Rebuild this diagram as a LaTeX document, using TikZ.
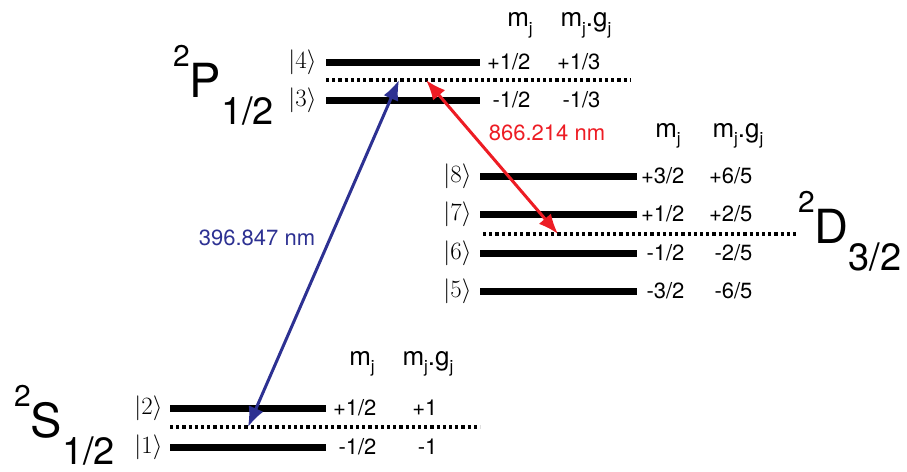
\documentclass[tikz,border=0pt]{standalone}
\usepackage{fontspec}
\setmainfont{TeX Gyre Heros}
\usetikzlibrary{arrows.meta}
\definecolor{uvblue}{RGB}{45,49,146}
\definecolor{irred}{RGB}{237,28,36}
\newcommand{\supn}[1]{\raisebox{31pt}{\fontsize{30}{30}\selectfont #1}}
\newcommand{\subn}[1]{\raisebox{-27pt}{\fontsize{38}{38}\selectfont #1}}
\newcommand{\jsub}{\lower7pt\hbox{\fontsize{17}{17}\selectfont j}}
\begin{document}
\begin{tikzpicture}[x=1pt,y=-1pt,
  level/.style={line width=7pt},
  midline/.style={line width=3.2pt,dash pattern=on 3.2pt off 3pt},
  ket/.style={anchor=east,font=\fontsize{23}{23}\selectfont},
  val/.style={anchor=east,font=\fontsize{22}{22}\selectfont},
  head/.style={anchor=base,font=\fontsize{26}{26}\selectfont},
  term/.style={anchor=base west,inner sep=0pt,font=\fontsize{47}{47}\selectfont},
  wave/.style={line width=3pt,{Latex[length=20pt,width=16pt]}-{Latex[length=20pt,width=16pt]}}]
\useasboundingbox (0,0) rectangle (907,471);

% 2P1/2 manifold
\draw[level] (326,62) -- (480,62);
\draw[midline] (326,80) -- (630,80);
\draw[level] (326,100) -- (480,100);
\node[ket] (k4) at (320,62) {$|4\rangle$};
\node[ket] (k3) at (320,100) {$|3\rangle$};
\node[val] (m4) at (534,62) {+1/2};
\node[val] (g4) at (604,62) {+1/3};
\node[val] (m3) at (534,100) {-1/2};
\node[val] (g3) at (604,100) {-1/3};
\node[head] (hpm) at (520,27) {m\jsub};
\node[head] (hpg) at (586,27) {m\jsub.g\jsub};
\node[term] (pterm) at (173,97) {\supn{2}P\subn{1/2}};

% 2D3/2 manifold
\draw[level] (480,176) -- (637,176);
\draw[level] (480,214) -- (637,214);
\draw[midline] (483,234) -- (797,234);
\draw[level] (480,253) -- (637,253);
\draw[level] (480,291) -- (637,291);
\node[ket] (k8) at (475,176) {$|8\rangle$};
\node[ket] (k7) at (475,214) {$|7\rangle$};
\node[ket] (k6) at (475,253) {$|6\rangle$};
\node[ket] (k5) at (475,291) {$|5\rangle$};
\node[val] (m8) at (688,176) {+3/2};
\node[val] (g8) at (756,176) {+6/5};
\node[val] (m7) at (688,214) {+1/2};
\node[val] (g7) at (756,214) {+2/5};
\node[val] (m6) at (688,253) {-1/2};
\node[val] (g6) at (756,253) {-2/5};
\node[val] (m5) at (688,291) {-3/2};
\node[val] (g5) at (756,291) {-6/5};
\node[head] (hdm) at (668,137) {m\jsub};
\node[head] (hdg) at (738,137) {m\jsub.g\jsub};
\node[term] (dterm) at (798,243) {\supn{2}D\subn{3/2}};

% 2S1/2 manifold
\draw[level] (170,408) -- (326,408);
\draw[midline] (170,427) -- (480,427);
\draw[level] (170,447) -- (326,447);
\node[ket] (k2) at (166,408) {$|2\rangle$};
\node[ket] (k1) at (166,447) {$|1\rangle$};
\node[val] (m2) at (380,408) {+1/2};
\node[val] (g2) at (441,408) {+1};
\node[val] (m1) at (380,447) {-1/2};
\node[val] (g1) at (441,447) {-1};
\node[head] (hsm) at (362,365) {m\jsub};
\node[head] (hsg) at (428,365) {m\jsub.g\jsub};
\node[term] (sterm) at (14,437) {\supn{2}S\subn{1/2}};

% transitions
\coordinate (sfoot) at (248,427);
\coordinate (ptop) at (399,80);
\coordinate (pred) at (426,80);
\coordinate (dfoot) at (558,234);
\draw[wave,uvblue] (sfoot) -- (ptop);
\draw[wave,irred] (pred) -- (dfoot);
\node[uvblue,font=\fontsize{22}{22}\selectfont] (luv) at (257,238) {396.847 nm};
\node[irred,font=\fontsize{22}{22}\selectfont] (lir) at (547,133) {866.214 nm};
\end{tikzpicture}
\end{document}
